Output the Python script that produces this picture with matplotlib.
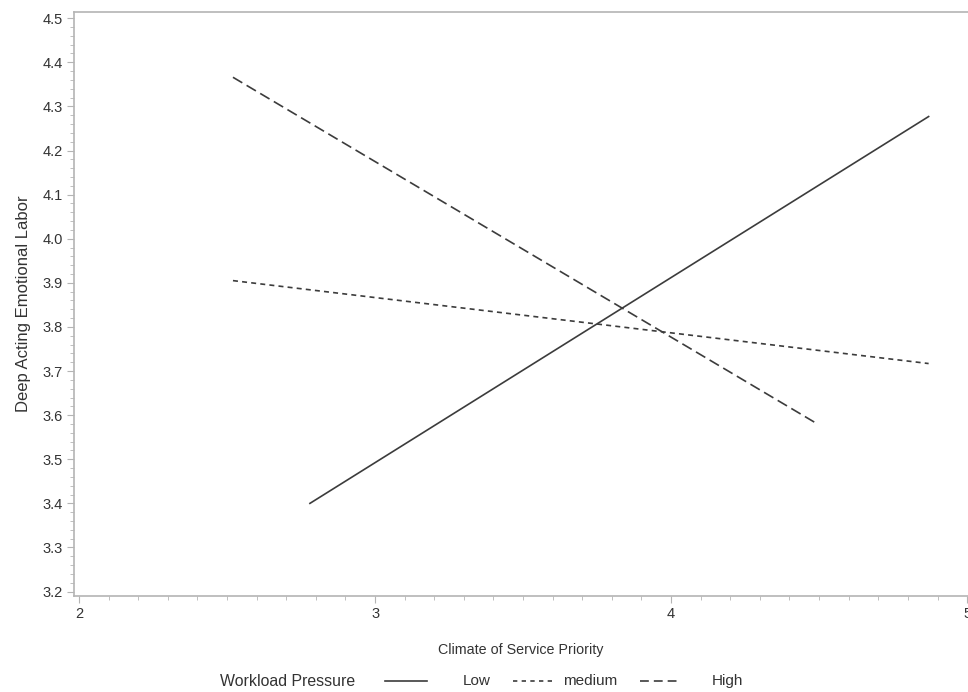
import matplotlib
matplotlib.use('Agg')
import matplotlib.pyplot as plt
from matplotlib.ticker import MultipleLocator
from matplotlib.lines import Line2D

plt.rcParams['font.family'] = ['Liberation Sans', 'DejaVu Sans']

# endpoints of each simple slope (climate, deep acting)
low_x = [2.78, 4.87]
low_y = [3.40, 4.277]
med_x = [2.52, 4.87]
med_y = [3.905, 3.717]
high_x = [2.52, 4.497]
high_y = [4.366, 3.579]

group_names = ['Low', 'medium', 'High']

line_col = '#3c3c3c'
text_col = '#333333'
axis_col = '#b4b4b4'
styles = ['-', (0, (3, 2.5)), (0, (6.5, 3))]
legend_styles = ['-', (0, (2.6, 2.6)), (0, (5.3, 3))]

W, H = 968, 692
fig = plt.figure(figsize=(W / 100, H / 100), dpi=100)
ax = fig.add_axes([74/W, 1 - 596/H, 1 - 74/W, (596 - 12)/H])

ax.plot(low_x, low_y, color=line_col, lw=1.2, ls=styles[0])
ax.plot(med_x, med_y, color=line_col, lw=1.2, ls=styles[1])
ax.plot(high_x, high_y, color=line_col, lw=1.2, ls=styles[2])

ax.set_xlim(1.983, 5.003)
ax.set_ylim(3.19, 4.514)
ax.xaxis.set_major_locator(MultipleLocator(1))
ax.xaxis.set_minor_locator(MultipleLocator(0.1))
ax.yaxis.set_major_locator(MultipleLocator(0.1))
ax.yaxis.set_minor_locator(MultipleLocator(0.02))
ax.set_yticks(ax.get_yticks())
ax.set_yticklabels(['%.1f' % v for v in ax.get_yticks()])
ax.set_ylim(3.19, 4.514)

for s in ['left', 'bottom', 'top']:
    ax.spines[s].set_color(axis_col)
    ax.spines[s].set_linewidth(1.2)
ax.spines['right'].set_visible(False)

ax.tick_params(which='major', length=5, color=axis_col, labelsize=10.5,
               labelcolor=text_col, pad=3)
ax.tick_params(which='minor', length=3, color=axis_col)

ax.set_xlabel('Climate of Service Priority', fontsize=10.3, color=text_col, labelpad=16)
ax.set_ylabel('Deep Acting Emotional Labor', fontsize=12, color=text_col, labelpad=8)

# legend row drawn by hand so the spacing follows the original
ly = 1 - 681/H
fig.text(288/W, ly, 'Workload Pressure', fontsize=11.4, color=text_col,
         ha='center', va='center')
handle_px = [(385, 427), (513, 554), (640, 677)]
label_px = [477, 590, 727]
for (x0, x1), lx, st, name in zip(handle_px, label_px, legend_styles, group_names):
    fig.add_artist(Line2D([x0/W, x1/W], [ly, ly], color=line_col, lw=1.2, ls=st,
                          transform=fig.transFigure))
    fig.text(lx/W, ly, name, fontsize=11, color=text_col, ha='center', va='center')

fig.savefig('out.png', dpi=100)
